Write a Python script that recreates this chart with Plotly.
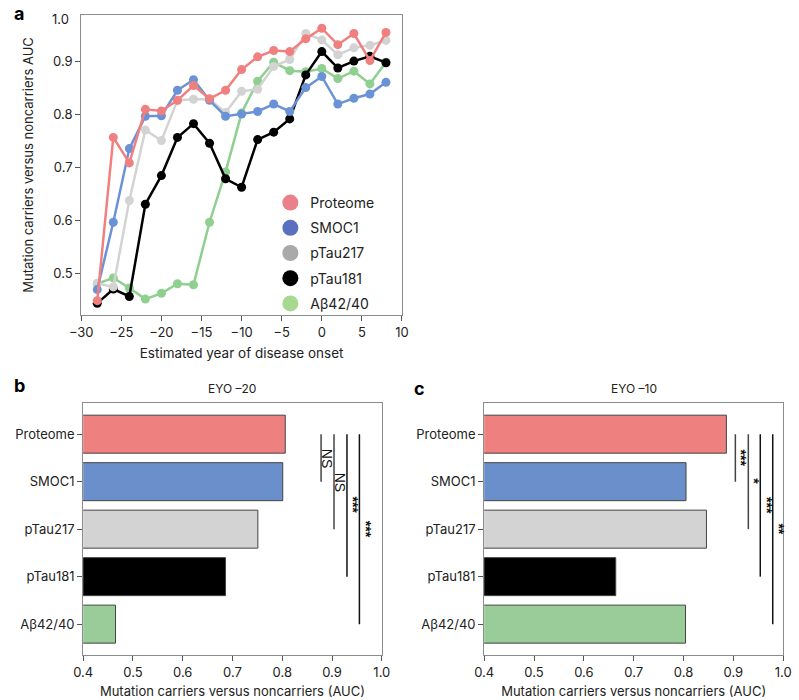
import plotly.graph_objects as go

# ---------------- data ----------------
eyo = [-28, -26, -24, -22, -20, -18, -16, -14, -12, -10, -8, -6, -4, -2, 0, 2, 4, 6, 8]
proteome = [0.448, 0.756, 0.708, 0.809, 0.806, 0.826, 0.854, 0.829, 0.845, 0.884, 0.908, 0.920,
            0.918, 0.942, 0.962, 0.931, 0.952, 0.901, 0.954]
smoc1 = [0.469, 0.596, 0.735, 0.796, 0.797, 0.845, 0.865, 0.826, 0.796, 0.800, 0.805, 0.819,
         0.805, 0.850, 0.871, 0.819, 0.830, 0.838, 0.860]
ptau217 = [0.481, 0.474, 0.637, 0.770, 0.750, 0.826, 0.828, 0.828, 0.803, 0.843, 0.847, 0.890,
           0.903, 0.952, 0.940, 0.912, 0.925, 0.930, 0.939]
ptau181 = [0.443, 0.470, 0.456, 0.630, 0.684, 0.756, 0.782, 0.745, 0.678, 0.662, 0.752, 0.766,
           0.791, 0.874, 0.918, 0.887, 0.900, 0.909, 0.897]
abeta = [0.480, 0.491, 0.472, 0.451, 0.462, 0.480, 0.478, 0.596, 0.691, 0.802, 0.862, 0.898,
         0.882, 0.880, 0.886, 0.867, 0.881, 0.857, 0.898]

series_names = ["Proteome", "SMOC1", "pTau217", "pTau181", "Aβ42/40"]
series_values = [proteome, smoc1, ptau217, ptau181, abeta]

bar_categories = ["Proteome", "SMOC1", "pTau217", "pTau181", "Aβ42/40"]
auc_eyo20 = [0.806, 0.801, 0.751, 0.686, 0.465]
auc_eyo10 = [0.886, 0.805, 0.846, 0.664, 0.804]

sig_b_to = ["SMOC1", "pTau217", "pTau181", "Aβ42/40"]
sig_b_x = [0.878, 0.904, 0.930, 0.955]
sig_b_text = ["NS", "NS", "***", "***"]
sig_c_to = ["SMOC1", "pTau217", "pTau181", "Aβ42/40"]
sig_c_x = [0.904, 0.930, 0.954, 0.979]
sig_c_text = ["***", "*", "***", "**"]

x_ticks = [-30, -25, -20, -15, -10, -5, 0, 5, 10]
y_ticks = [0.5, 0.6, 0.7, 0.8, 0.9]
bar_ticks = [0.4, 0.5, 0.6, 0.7, 0.8, 0.9, 1.0]

# ---------------- styles ----------------
line_colors = ["#F08080", "#6A93D6", "#D3D3D3", "#000000", "#8FCF8F"]
legend_colors = ["#EC7F8C", "#5A6FBE", "#A9A9A9", "#000000", "#A6D98F"]
bar_colors = ["#EF8080", "#6A8FCA", "#D3D3D3", "#000000", "#99CC99"]
FONT = "Inter"
TXT = "#222222"
FRAME = "#8C8C8C"

fig = go.Figure()

draw_order = [4, 3, 2, 1, 0]
for i in draw_order:
    fig.add_trace(go.Scatter(
        x=eyo, y=series_values[i], mode="lines+markers", name=series_names[i],
        line=dict(color=line_colors[i], width=2.5),
        marker=dict(color=line_colors[i], size=9),
        showlegend=False, xaxis="x", yaxis="y"))

for i, nm in enumerate(series_names):
    fig.add_trace(go.Scatter(
        x=[None], y=[None], mode="markers", name=nm, legendgroup=nm,
        marker=dict(color=legend_colors[i], size=18),
        showlegend=True, xaxis="x", yaxis="y"))

fig.add_trace(go.Bar(
    x=auc_eyo20, y=bar_categories, orientation="h",
    marker=dict(color=bar_colors, line=dict(color="#444444", width=1)),
    width=0.8, showlegend=False, xaxis="x2", yaxis="y2"))
fig.add_trace(go.Bar(
    x=auc_eyo10, y=bar_categories, orientation="h",
    marker=dict(color=bar_colors, line=dict(color="#444444", width=1)),
    width=0.8, showlegend=False, xaxis="x3", yaxis="y3"))

shapes = []
annotations = []


def add_sig(xs, tos, texts, xref, yref):
    for k, (xv, to, tx) in enumerate(zip(xs, tos, texts)):
        y1 = bar_categories.index(to)
        shapes.append(dict(type="line", xref=xref, yref=yref, x0=xv, x1=xv, y0=0, y1=y1,
                           line=dict(color="#444444" if k < 2 else "#111111", width=1.5)))
        label = tx if tx == "NS" else "<b>" + tx + "</b>"
        annotations.append(dict(text=label, xref=xref, yref=yref, x=xv, y=y1 / 2.0,
                                xanchor="center", yanchor="middle", xshift=6, textangle=90,
                                showarrow=False,
                                font=dict(family="Liberation Sans", size=14, color="#111111")))


add_sig(sig_b_x, sig_b_to, sig_b_text, "x2", "y2")
add_sig(sig_c_x, sig_c_to, sig_c_text, "x3", "y3")

annotations += [
    dict(text="<b>a</b>", xref="paper", yref="paper", x=0.0, y=1 - 13 / 700, xanchor="left",
         yanchor="middle", showarrow=False, font=dict(family=FONT, size=18, color="#000")),
    dict(text="<b>b</b>", xref="paper", yref="paper", x=0.0, y=1 - 386 / 700, xanchor="left",
         yanchor="middle", showarrow=False, font=dict(family=FONT, size=18, color="#000")),
    dict(text="<b>c</b>", xref="paper", yref="paper", x=410 / 799, y=1 - 388 / 700, xanchor="left",
         yanchor="middle", showarrow=False, font=dict(family=FONT, size=18, color="#000")),
    dict(text="EYO –20", xref="x2 domain", yref="paper", x=0.5, y=1 - 388 / 700,
         xanchor="center", yanchor="middle", showarrow=False,
         font=dict(family=FONT, size=12, color=TXT)),
    dict(text="EYO –10", xref="x3 domain", yref="paper", x=0.5, y=1 - 388 / 700,
         xanchor="center", yanchor="middle", showarrow=False,
         font=dict(family=FONT, size=12, color=TXT)),
    dict(text="1.0", xref="paper", yref="paper", x=61 / 799, y=1 - 19 / 700,
         xanchor="right", yanchor="middle", showarrow=False,
         font=dict(family=FONT, size=13, color=TXT)),
]

axis_common = dict(showline=True, linecolor=FRAME, linewidth=1, mirror=True, ticks="outside",
                   ticklen=5, tickcolor="#555555", showgrid=False, zeroline=False,
                   tickfont=dict(family=FONT, size=13, color=TXT))

fig.update_layout(
    width=799, height=700, margin=dict(l=0, r=0, t=0, b=0),
    paper_bgcolor="white", plot_bgcolor="white",
    font=dict(family=FONT, color=TXT),
    xaxis=dict(domain=[71 / 799, 400 / 799], range=[-30, 10], tickvals=x_ticks,
               title=dict(text="Estimated year of disease onset", standoff=9,
                          font=dict(family=FONT, size=13.5, color=TXT)),
               anchor="y", **axis_common),
    yaxis=dict(domain=[1 - 315 / 700, 1 - 15 / 700], range=[0.421, 0.987], tickvals=y_ticks,
               tickformat=".1f",
               title=dict(text="Mutation carriers versus noncarriers AUC", standoff=16,
                          font=dict(family=FONT, size=13, color=TXT)),
               anchor="x", **axis_common),
    xaxis2=dict(domain=[73 / 799, 379.3 / 799], range=[0.4, 1.0], tickvals=bar_ticks,
                tickformat=".1f",
                title=dict(text="Mutation carriers versus noncarriers (AUC)", standoff=8,
                           font=dict(family=FONT, size=13, color=TXT)),
                anchor="y2", **axis_common),
    yaxis2=dict(domain=[1 - 655 / 700, 1 - 403.3 / 700], type="category",
                categoryorder="array", categoryarray=bar_categories, range=[4.65, -0.65],
                anchor="x2", **axis_common),
    xaxis3=dict(domain=[484.3 / 799, 791 / 799], range=[0.4, 1.0], tickvals=bar_ticks,
                tickformat=".1f",
                title=dict(text="Mutation carriers versus noncarriers (AUC)", standoff=8,
                           font=dict(family=FONT, size=13, color=TXT)),
                anchor="y3", **axis_common),
    yaxis3=dict(domain=[1 - 655 / 700, 1 - 403.3 / 700], type="category",
                categoryorder="array", categoryarray=bar_categories, range=[4.65, -0.65],
                anchor="x3", **axis_common),
    legend=dict(x=265 / 799, y=1 - 187 / 700, xanchor="left", yanchor="top",
                bgcolor="rgba(0,0,0,0)", tracegroupgap=4, itemsizing="trace",
                font=dict(family=FONT, size=14, color=TXT)),
    shapes=shapes, annotations=annotations,
)

fig.write_html("out.html", config={"displayModeBar": False},
               post_script="document.body.style.margin='0px';document.body.style.padding='0px';")
